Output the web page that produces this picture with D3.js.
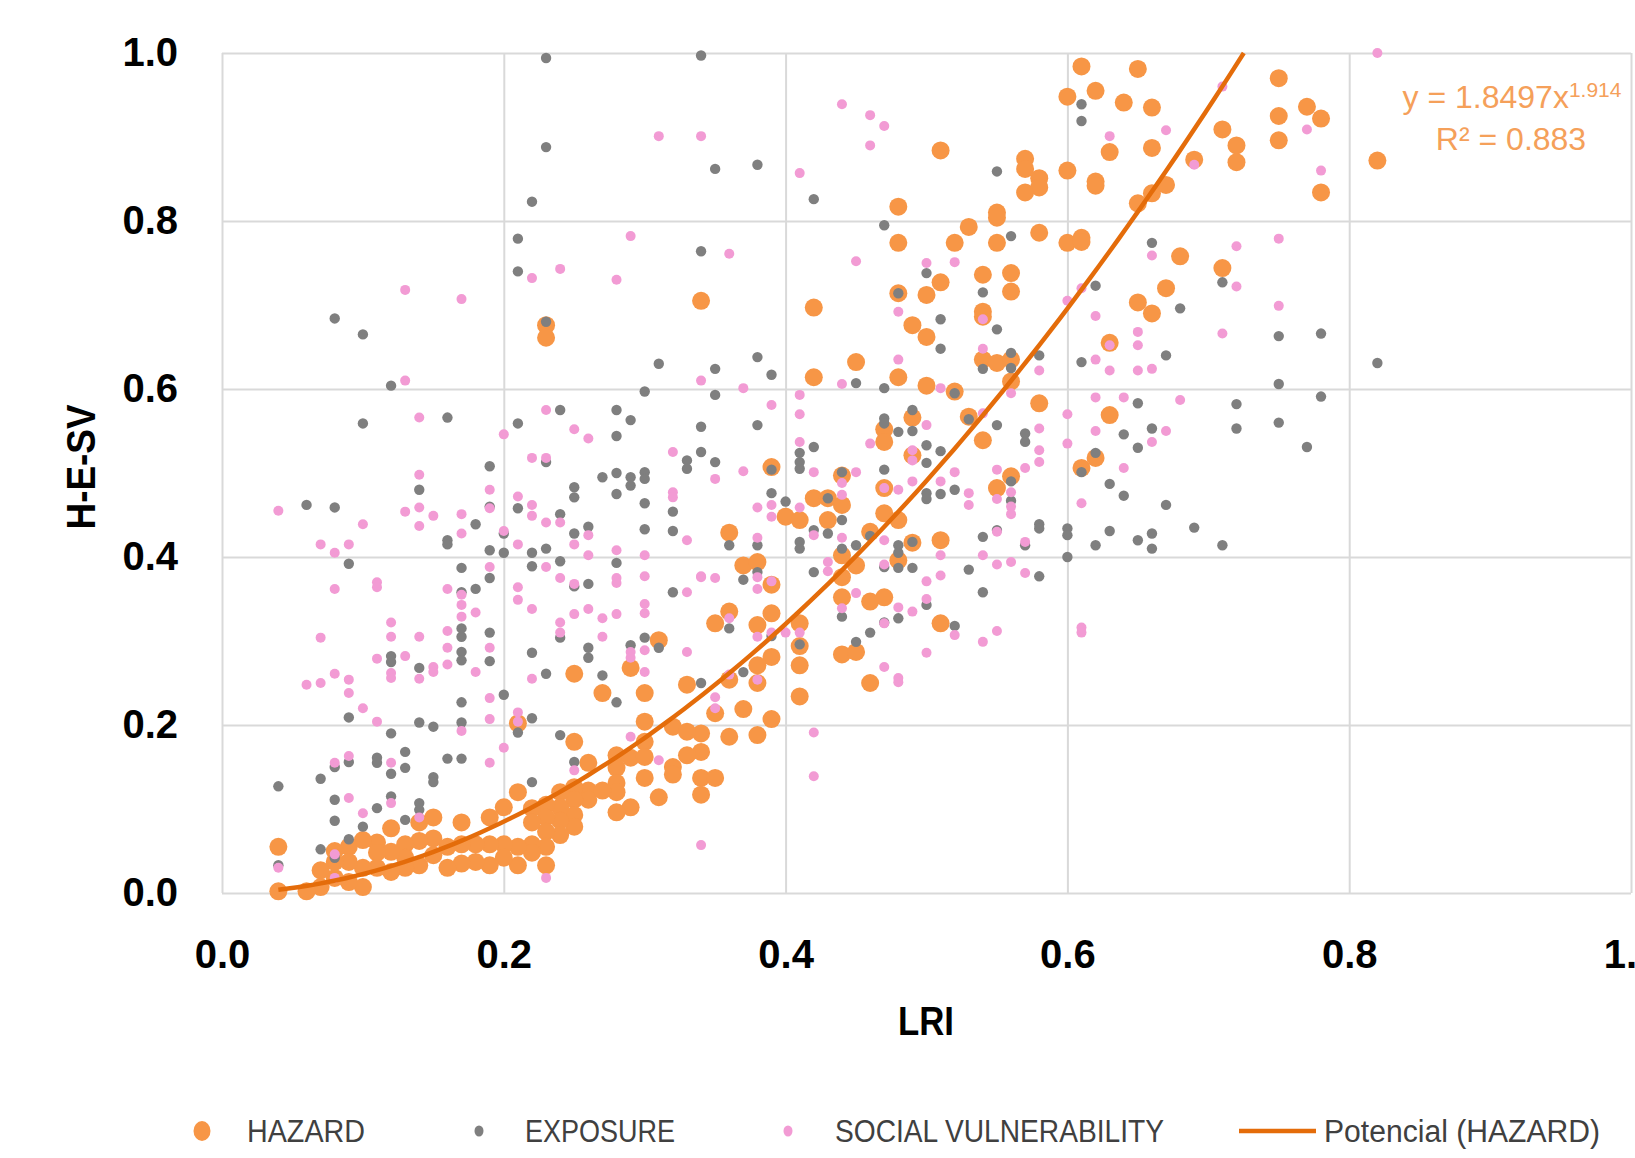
<!DOCTYPE html>
<html>
<head>
<meta charset="utf-8">
<script src="https://cdn.jsdelivr.net/npm/d3@7"></script>
<style>
  body { margin: 0; background: #fff; }
  svg { display: block; }
</style>
</head>
<body>
<div id="chart"></div>
<script>
// values: [LRI, H-E-SV]
const hazard = [
  [0.75,0.97],[0.75,0.925],[0.75,0.896],[0.77,0.936],[0.78,0.922],[0.71,0.909],[0.72,0.89],[0.72,0.87],[0.69,0.873],[0.78,0.834],[0.82,0.872],[0.68,0.758],[0.71,0.744],
  [0.61,0.984],[0.65,0.981],[0.6,0.948],[0.62,0.955],[0.64,0.941],[0.66,0.935],[0.63,0.882],[0.66,0.887],[0.57,0.874],[0.57,0.862],[0.58,0.851],[0.58,0.84],[0.57,0.834],[0.6,0.86],[0.62,0.847],[0.62,0.842],[0.65,0.821],[0.66,0.833],[0.67,0.843],[0.51,0.884],[0.55,0.81],[0.55,0.804],[0.48,0.817],[0.53,0.793],[0.48,0.774],[0.52,0.774],[0.55,0.774],[0.58,0.786],[0.6,0.774],[0.61,0.78],[0.61,0.775],
  [0.54,0.736],[0.56,0.738],[0.56,0.716],[0.51,0.727],[0.5,0.712],[0.48,0.714],[0.67,0.72],[0.65,0.703],[0.66,0.69],[0.54,0.692],[0.54,0.686],[0.34,0.705],[0.42,0.697],[0.49,0.676],[0.5,0.662],[0.63,0.655],[0.54,0.635],[0.55,0.631],[0.56,0.635],[0.45,0.632],[0.42,0.614],[0.48,0.614],[0.5,0.604],[0.52,0.597],[0.58,0.583],[0.63,0.569],[0.53,0.567],[0.49,0.566],[0.47,0.552],[0.47,0.537],[0.54,0.539],[0.56,0.609],[0.39,0.507],[0.49,0.521],[0.61,0.506],[0.62,0.518],[0.56,0.496],[0.44,0.497],
  [0.47,0.482],[0.55,0.482],[0.42,0.47],[0.43,0.47],[0.44,0.462],[0.4,0.448],[0.41,0.444],[0.43,0.444],[0.47,0.452],[0.48,0.444],[0.36,0.429],[0.46,0.43],[0.44,0.402],[0.45,0.39],[0.49,0.417],[0.51,0.42],[0.48,0.396],[0.37,0.39],[0.38,0.394],[0.44,0.376],[0.39,0.367],[0.44,0.352],[0.46,0.347],[0.47,0.352],[0.36,0.335],[0.39,0.333],[0.35,0.321],[0.38,0.319],[0.51,0.321],[0.41,0.321],[0.41,0.294],[0.41,0.271],[0.39,0.281],[0.38,0.271],[0.44,0.284],[0.45,0.287],[0.46,0.25],[0.36,0.254],[0.38,0.25],[0.41,0.234],[0.35,0.214],[0.37,0.219],[0.39,0.207],[0.34,0.19],[0.36,0.186],[0.38,0.188],[0.34,0.168],[0.34,0.137],[0.35,0.137],[0.34,0.117],
  [0.23,0.676],[0.23,0.661],[0.31,0.301],[0.25,0.261],[0.29,0.268],[0.27,0.238],[0.3,0.238],[0.33,0.248],[0.3,0.204],[0.21,0.202],[0.25,0.18],[0.3,0.18],[0.32,0.198],[0.33,0.192],[0.28,0.164],[0.29,0.161],[0.3,0.162],[0.26,0.155],[0.32,0.15],[0.32,0.141],[0.33,0.164],[0.31,0.114],[0.3,0.137],[0.28,0.149],[0.28,0.131],[0.28,0.12],[0.29,0.102],[0.28,0.096],[0.26,0.122],[0.26,0.111],[0.27,0.122],
  [0.25,0.126],[0.25,0.111],[0.25,0.093],[0.25,0.079],[0.24,0.12],[0.24,0.102],[0.24,0.086],[0.24,0.069],[0.23,0.105],[0.23,0.09],[0.23,0.073],[0.23,0.055],[0.23,0.033],[0.22,0.101],[0.22,0.084],[0.22,0.058],[0.22,0.048],[0.21,0.12],[0.21,0.055],[0.21,0.033],[0.2,0.102],[0.2,0.058],[0.2,0.042],[0.19,0.09],[0.19,0.058],[0.19,0.033],[0.18,0.058],[0.18,0.037],[0.17,0.084],[0.17,0.058],[0.17,0.035],[0.16,0.055],[0.16,0.03],[0.15,0.09],[0.15,0.065],[0.15,0.045],[0.14,0.084],[0.14,0.062],[0.14,0.033],[0.13,0.058],[0.13,0.042],[0.13,0.03],[0.12,0.077],[0.12,0.049],[0.12,0.025],[0.11,0.06],[0.11,0.048],[0.11,0.03],[0.1,0.063],[0.1,0.03],[0.1,0.007],[0.09,0.055],[0.09,0.037],[0.09,0.013],[0.08,0.05],[0.08,0.037],[0.08,0.018],[0.07,0.027],[0.07,0.007],[0.06,0.002],[0.04,0.055],[0.04,0.002]
];

const exposure = [
  [0.23,0.994],[0.34,0.997],[0.23,0.888],[0.22,0.823],[0.21,0.779],[0.21,0.74],[0.34,0.764],[0.08,0.684],[0.1,0.665],[0.23,0.68],[0.31,0.63],[0.12,0.604],[0.3,0.597],[0.1,0.559],[0.16,0.566],[0.21,0.559],[0.24,0.575],[0.28,0.575],[0.29,0.563],[0.28,0.544],[0.34,0.555],[0.34,0.525],[0.33,0.515],[0.33,0.505],[0.19,0.508],[0.23,0.513],
  [0.27,0.495],[0.28,0.5],[0.29,0.495],[0.29,0.485],[0.3,0.501],[0.3,0.493],[0.14,0.48],[0.19,0.46],[0.06,0.462],[0.08,0.459],[0.21,0.458],[0.25,0.483],[0.25,0.471],[0.28,0.475],[0.3,0.464],[0.32,0.454],[0.32,0.431],[0.18,0.439],[0.24,0.451],[0.26,0.436],[0.25,0.428],[0.3,0.433],[0.16,0.42],[0.16,0.415],[0.2,0.428],[0.19,0.408],[0.2,0.405],[0.22,0.405],[0.23,0.41],[0.24,0.395],[0.28,0.393],[0.22,0.389],[0.09,0.392],[0.17,0.387],[0.19,0.375],[0.18,0.362],[0.17,0.358],[0.25,0.365],[0.26,0.368],[0.32,0.358],
  [0.17,0.315],[0.17,0.305],[0.19,0.31],[0.24,0.304],[0.3,0.304],[0.31,0.292],[0.29,0.295],[0.17,0.287],[0.17,0.277],[0.12,0.282],[0.12,0.275],[0.19,0.276],[0.22,0.286],[0.26,0.292],[0.26,0.28],[0.14,0.268],[0.23,0.261],[0.27,0.259],[0.34,0.25],[0.2,0.236],[0.17,0.227],[0.09,0.209],[0.14,0.203],[0.15,0.198],[0.17,0.203],[0.22,0.208],[0.21,0.191],[0.24,0.188],[0.28,0.227],[0.12,0.19],[0.13,0.168],[0.16,0.16],[0.17,0.16],[0.11,0.161],[0.11,0.155],[0.09,0.156],[0.08,0.15],[0.13,0.149],[0.12,0.142],[0.15,0.138],[0.15,0.132],[0.04,0.127],[0.07,0.136],[0.22,0.132],[0.25,0.156],[0.12,0.115],[0.08,0.111],[0.11,0.101],[0.14,0.107],[0.14,0.099],[0.08,0.086],[0.13,0.087],[0.1,0.079],[0.09,0.064],[0.07,0.052],[0.08,0.042],[0.04,0.033],
  [0.35,0.862],[0.38,0.867],[0.42,0.826],[0.55,0.859],[0.61,0.939],[0.61,0.919],[0.47,0.795],[0.56,0.782],[0.5,0.738],[0.54,0.715],[0.48,0.714],[0.62,0.723],[0.66,0.774],[0.51,0.683],[0.55,0.671],[0.51,0.648],[0.38,0.638],[0.35,0.624],[0.39,0.617],[0.54,0.624],[0.56,0.643],[0.56,0.625],[0.58,0.64],[0.61,0.632],[0.67,0.64],[0.45,0.607],[0.47,0.601],[0.35,0.593],[0.52,0.595],[0.65,0.583],[0.38,0.557],[0.49,0.575],[0.47,0.565],[0.47,0.559],[0.48,0.549],[0.49,0.55],[0.53,0.564],[0.55,0.557],[0.57,0.547],[0.57,0.537],[0.64,0.546],[0.66,0.553],[0.65,0.53],[0.35,0.513],[0.42,0.531],[0.41,0.524],[0.41,0.513],[0.41,0.505],[0.5,0.533],[0.51,0.526],[0.62,0.524],[0.39,0.504],[0.44,0.501],[0.47,0.504],[0.5,0.512],[0.61,0.501],
  [0.39,0.476],[0.4,0.466],[0.43,0.47],[0.44,0.444],[0.44,0.41],[0.45,0.414],[0.43,0.428],[0.42,0.432],[0.41,0.418],[0.41,0.41],[0.46,0.425],[0.48,0.414],[0.48,0.405],[0.48,0.387],[0.49,0.418],[0.49,0.387],[0.47,0.388],[0.5,0.476],[0.5,0.469],[0.51,0.475],[0.52,0.48],[0.56,0.49],[0.56,0.467],[0.55,0.432],[0.54,0.424],[0.58,0.439],[0.58,0.434],[0.6,0.434],[0.6,0.426],[0.6,0.4],[0.63,0.487],[0.64,0.473],[0.67,0.462],[0.63,0.431],[0.62,0.414],[0.65,0.42],[0.66,0.428],[0.66,0.41],[0.57,0.414],[0.58,0.377],[0.53,0.385],[0.54,0.358],[0.42,0.382],[0.38,0.382],[0.38,0.414],[0.37,0.373],[0.36,0.414],[0.36,0.315],[0.39,0.306],[0.41,0.296],[0.44,0.329],[0.45,0.299],[0.46,0.31],[0.47,0.322],[0.48,0.327],[0.5,0.343],[0.52,0.318],[0.37,0.263],
  [0.71,0.727],[0.68,0.696],[0.75,0.663],[0.78,0.666],[0.82,0.631],[0.75,0.606],[0.72,0.582],[0.78,0.591],[0.72,0.553],[0.75,0.56],[0.77,0.531],[0.69,0.435],[0.71,0.414]
];

const socialVulnerability = [
  [0.31,0.901],[0.34,0.901],[0.29,0.782],[0.22,0.732],[0.24,0.743],[0.28,0.73],[0.13,0.718],[0.17,0.707],[0.13,0.61],[0.34,0.61],[0.14,0.566],[0.2,0.546],[0.23,0.575],[0.25,0.552],[0.26,0.541],[0.32,0.525],[0.22,0.518],[0.23,0.518],
  [0.14,0.498],[0.04,0.455],[0.1,0.439],[0.13,0.454],[0.14,0.459],[0.14,0.437],[0.15,0.449],[0.17,0.451],[0.17,0.428],[0.19,0.48],[0.19,0.458],[0.2,0.431],[0.21,0.472],[0.21,0.415],[0.22,0.462],[0.22,0.449],[0.23,0.441],[0.24,0.441],[0.25,0.415],[0.26,0.426],[0.26,0.402],[0.28,0.408],[0.3,0.402],[0.33,0.42],[0.32,0.477],[0.32,0.471],[0.07,0.415],[0.08,0.405],[0.09,0.415],[0.08,0.362],[0.11,0.37],[0.11,0.364],[0.16,0.362],[0.17,0.355],[0.17,0.343],[0.17,0.329],[0.18,0.334],[0.19,0.388],[0.21,0.364],[0.21,0.349],[0.22,0.338],[0.23,0.388],[0.24,0.375],[0.25,0.368],[0.25,0.332],[0.26,0.338],[0.27,0.327],[0.27,0.305],[0.28,0.375],[0.28,0.369],[0.28,0.332],[0.3,0.377],[0.3,0.344],[0.3,0.333],[0.33,0.358],[0.34,0.376],
  [0.24,0.322],[0.24,0.31],[0.12,0.322],[0.12,0.305],[0.14,0.305],[0.16,0.312],[0.16,0.292],[0.16,0.272],[0.19,0.292],[0.07,0.304],[0.11,0.279],[0.13,0.282],[0.12,0.262],[0.12,0.256],[0.14,0.255],[0.15,0.269],[0.15,0.263],[0.18,0.263],[0.22,0.255],[0.29,0.287],[0.29,0.28],[0.3,0.289],[0.3,0.263],[0.33,0.287],[0.08,0.261],[0.06,0.248],[0.07,0.25],[0.09,0.254],[0.09,0.238],[0.1,0.22],[0.11,0.204],[0.19,0.232],[0.19,0.207],[0.17,0.193],[0.21,0.215],[0.21,0.204],[0.2,0.173],[0.19,0.155],[0.25,0.146],[0.29,0.186],[0.31,0.158],[0.08,0.155],[0.09,0.163],[0.12,0.155],[0.09,0.113],[0.12,0.107],[0.1,0.095],[0.14,0.09],[0.08,0.046],[0.04,0.03],[0.08,0.018],[0.23,0.018],[0.34,0.057],
  [0.44,0.939],[0.46,0.926],[0.47,0.913],[0.46,0.89],[0.41,0.857],[0.63,0.901],[0.67,0.908],[0.36,0.761],[0.45,0.752],[0.5,0.75],[0.52,0.751],[0.66,0.759],[0.48,0.692],[0.54,0.683],[0.6,0.705],[0.61,0.72],[0.62,0.687],[0.65,0.668],[0.65,0.652],[0.63,0.652],[0.54,0.648],[0.48,0.635],[0.62,0.635],[0.58,0.622],[0.63,0.622],[0.65,0.622],[0.66,0.624],[0.37,0.601],[0.44,0.606],[0.39,0.581],[0.41,0.593],[0.41,0.57],[0.51,0.601],[0.56,0.595],[0.62,0.59],[0.64,0.59],[0.6,0.57],[0.5,0.557],[0.54,0.571],[0.58,0.553],[0.62,0.55],[0.67,0.55],[0.41,0.537],[0.46,0.535],[0.6,0.535],[0.66,0.537],[0.49,0.527],[0.49,0.515],[0.58,0.527],[0.58,0.513],[0.64,0.506],[0.37,0.502],[0.42,0.501],[0.45,0.501],[0.52,0.501],[0.55,0.504],[0.57,0.506],
  [0.35,0.493],[0.44,0.488],[0.44,0.474],[0.47,0.482],[0.48,0.48],[0.49,0.49],[0.51,0.49],[0.53,0.476],[0.53,0.462],[0.55,0.469],[0.56,0.477],[0.56,0.46],[0.56,0.451],[0.61,0.464],[0.38,0.459],[0.39,0.462],[0.39,0.448],[0.41,0.459],[0.38,0.423],[0.42,0.426],[0.44,0.423],[0.47,0.42],[0.51,0.402],[0.54,0.402],[0.55,0.391],[0.56,0.394],[0.57,0.418],[0.57,0.381],[0.55,0.43],[0.43,0.394],[0.43,0.383],[0.47,0.391],[0.5,0.371],[0.51,0.378],[0.34,0.377],[0.35,0.375],[0.38,0.376],[0.38,0.362],[0.39,0.371],[0.45,0.357],[0.44,0.339],[0.48,0.34],[0.49,0.335],[0.5,0.35],[0.36,0.327],[0.38,0.305],[0.39,0.31],[0.4,0.31],[0.41,0.31],[0.47,0.321],[0.52,0.307],[0.54,0.299],[0.55,0.312],[0.5,0.286],[0.47,0.269],[0.48,0.256],[0.48,0.251],[0.61,0.316],[0.61,0.31],[0.36,0.26],[0.38,0.254],[0.35,0.233],[0.35,0.22],[0.42,0.191],[0.42,0.139],
  [0.82,1.0],[0.71,0.96],[0.77,0.909],[0.78,0.86],[0.72,0.77],[0.75,0.779],[0.72,0.722],[0.75,0.699],[0.71,0.666],[0.68,0.587],[0.69,0.867]
];

// power trendline shown on the chart
const trendA = 1.8497;
const trendB = 1.914;
const trendXMin = 0.04;

const xTicks = [0, 0.2, 0.4, 0.6, 0.8, 1.0];
const yTicks = [0, 0.2, 0.4, 0.6, 0.8, 1.0];

const legendItems = ['HAZARD', 'EXPOSURE', 'SOCIAL VULNERABILITY', 'Potencial (HAZARD)'];

const W = 1635, H = 1158;
const margin = { top: 53, right: 4, bottom: 265, left: 222 };
const width = W - margin.left - margin.right;
const height = H - margin.top - margin.bottom;

const cHazard = '#F79646', cExposure = '#7F7F7F', cSV = '#F29BD4', cTrend = '#E46C0A', cGrid = '#D9D9D9';

const svg = d3.select('#chart').append('svg')
  .attr('width', W)
  .attr('height', H)
  .style('font-family', "'Liberation Sans', Arial, sans-serif");

svg.append('rect').attr('width', W).attr('height', H).attr('fill', '#fff');

const g = svg.append('g').attr('transform', 'translate(' + margin.left + ',' + margin.top + ')');

const x = d3.scaleLinear().domain([0, 1]).range([0, width]);
const y = d3.scaleLinear().domain([0, 1]).range([height, 0]);

// grid + tick labels (the last x label runs off the page, as in the original)
const xAxis = g.append('g')
  .attr('transform', 'translate(0,' + height + ')')
  .call(d3.axisBottom(x).tickValues(xTicks).tickSize(-height).tickPadding(47).tickFormat(d3.format('.1f')));
const yAxis = g.append('g')
  .call(d3.axisLeft(y).tickValues(yTicks).tickSize(-width).tickPadding(44).tickFormat(d3.format('.1f')));

[xAxis, yAxis].forEach(a => {
  a.select('.domain').remove();
  a.selectAll('line').attr('stroke', cGrid).attr('stroke-width', 2);
  a.selectAll('text')
    .attr('fill', '#000')
    .style('font-size', '40px')
    .style('font-weight', 'bold');
});

const dots = (data, r, color) => g.append('g')
  .selectAll('circle')
  .data(data)
  .enter().append('circle')
  .attr('cx', d => x(d[0]))
  .attr('cy', d => y(d[1]))
  .attr('r', r)
  .attr('fill', color);

dots(hazard, 9, cHazard);
dots(exposure, 5.2, cExposure);
dots(socialVulnerability, 5, cSV);

// trendline y = a x^b, drawn until it leaves the top of the plot
const trendXMax = Math.pow(1 / trendA, 1 / trendB);
const trendPts = d3.range(0, 101).map(i => {
  const xv = trendXMin + (trendXMax - trendXMin) * i / 100;
  return [xv, trendA * Math.pow(xv, trendB)];
});
g.append('path')
  .datum(trendPts)
  .attr('fill', 'none')
  .attr('stroke', cTrend)
  .attr('stroke-width', 4.5)
  .attr('d', d3.line().x(d => x(d[0])).y(d => y(d[1])));

// equation
const eq = svg.append('text')
  .attr('x', 1512).attr('y', 108)
  .attr('text-anchor', 'middle')
  .attr('fill', '#F5A05A')
  .style('font-size', '32px');
eq.append('tspan').text('y = 1.8497x');
eq.append('tspan').attr('dy', -11).style('font-size', '21px').text('1.914');

svg.append('text')
  .attr('x', 1511).attr('y', 150)
  .attr('text-anchor', 'middle')
  .attr('fill', '#F5A05A')
  .style('font-size', '32px')
  .text('R² = 0.883');

// axis titles
svg.append('text')
  .attr('x', 926).attr('y', 1035)
  .attr('text-anchor', 'middle')
  .attr('textLength', 56).attr('lengthAdjust', 'spacingAndGlyphs')
  .style('font-size', '40px').style('font-weight', 'bold')
  .text('LRI');

svg.append('text')
  .attr('transform', 'translate(95,467) rotate(-90)')
  .attr('text-anchor', 'middle')
  .attr('textLength', 125).attr('lengthAdjust', 'spacingAndGlyphs')
  .style('font-size', '40px').style('font-weight', 'bold')
  .text('H-E-SV');

// legend
const legend = svg.append('g').attr('transform', 'translate(0,1131)');
const legendX = [247, 525, 835, 1324];
const legendW = [118, 150, 329, 276];

legend.append('ellipse').attr('cx', 202).attr('cy', 0).attr('rx', 8.5).attr('ry', 10).attr('fill', cHazard);
legend.append('ellipse').attr('cx', 479).attr('cy', 0).attr('rx', 4.5).attr('ry', 5.5).attr('fill', cExposure);
legend.append('ellipse').attr('cx', 788).attr('cy', 0).attr('rx', 4.5).attr('ry', 5.5).attr('fill', cSV);
legend.append('line').attr('x1', 1239).attr('x2', 1316).attr('y1', 0).attr('y2', 0)
  .attr('stroke', cTrend).attr('stroke-width', 4.5);

legend.selectAll('text.lg')
  .data(legendItems)
  .enter().append('text')
  .attr('class', 'lg')
  .attr('x', (d, i) => legendX[i])
  .attr('y', 11)
  .attr('textLength', (d, i) => legendW[i])
  .attr('lengthAdjust', 'spacingAndGlyphs')
  .attr('fill', '#404040')
  .style('font-size', '31px')
  .text(d => d);
</script>
</body>
</html>
